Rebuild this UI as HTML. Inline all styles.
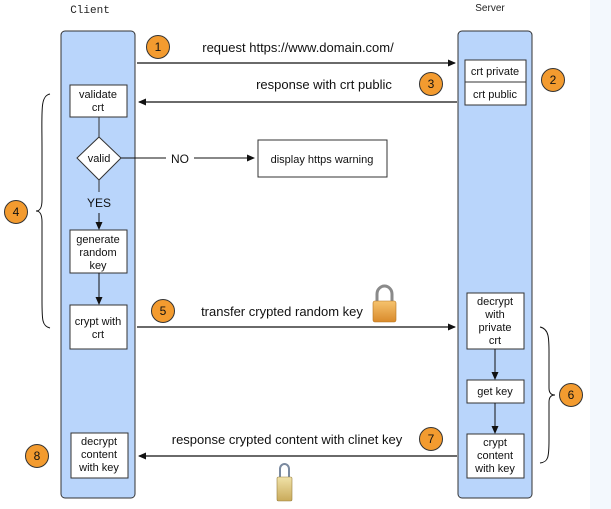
<!DOCTYPE html>
<html><head><meta charset="utf-8"><style>
body{margin:0;background:#fff;}
svg{display:block;font-family:"Liberation Sans",Arial,sans-serif;}
</style></head><body>
<svg width="611" height="509" viewBox="0 0 611 509" xmlns="http://www.w3.org/2000/svg">
<defs>
<marker id="ah" markerWidth="8" markerHeight="8" refX="7" refY="4" orient="auto" markerUnits="userSpaceOnUse"><path d="M0,0.5 L8,4 L0,7.5 Z" fill="#111"/></marker>
<linearGradient id="lk" x1="0" y1="0" x2="0" y2="1"><stop offset="0" stop-color="#f6c36e"/><stop offset="1" stop-color="#d98a2b"/></linearGradient>
<linearGradient id="lk2" x1="0" y1="0" x2="0" y2="1"><stop offset="0" stop-color="#f0e2a8"/><stop offset="1" stop-color="#c9aa5a"/></linearGradient>
</defs>
<rect x="590" y="0" width="21" height="509" fill="#f3f8fd"/>
<text x="90" y="13" font-family="Liberation Mono,monospace" font-size="11" text-anchor="middle" fill="#222">Client</text>
<text x="490" y="11" font-size="10" text-anchor="middle" fill="#222">Server</text>
<rect x="61" y="31" width="74" height="467" rx="4" fill="#b9d5fb" stroke="#333" stroke-width="1"/>
<rect x="458" y="31" width="74" height="467" rx="4" fill="#b9d5fb" stroke="#333" stroke-width="1"/>
<g font-size="11" fill="#111" text-anchor="middle">
<rect x="465" y="60" width="61" height="45" fill="#fff" stroke="#333"/>
<line x1="465" y1="82" x2="526" y2="82" stroke="#333"/>
<text x="495" y="75">crt private</text><text x="495" y="98">crt public</text>
<rect x="70" y="85" width="57" height="32" fill="#fff" stroke="#333"/>
<text x="98" y="98">validate</text><text x="98" y="111">crt</text>
<line x1="99" y1="117" x2="99" y2="137" stroke="#333"/>
<polygon points="99,137 121,158 99,180 77,158" fill="#fff" stroke="#333"/>
<text x="99" y="162">valid</text>
<line x1="121" y1="158" x2="166" y2="158" stroke="#111"/>
<text x="180" y="163" font-size="12">NO</text>
<line x1="194" y1="158" x2="254" y2="158" stroke="#111" marker-end="url(#ah)"/>
<rect x="258" y="140" width="129" height="37" fill="#fff" stroke="#333"/>
<text x="322" y="163">display https warning</text>
<line x1="99" y1="180" x2="99" y2="192" stroke="#333"/>
<text x="99" y="207" font-size="12">YES</text>
<line x1="99" y1="213" x2="99" y2="229" stroke="#111" marker-end="url(#ah)"/>
<rect x="70" y="230" width="57" height="43" fill="#fff" stroke="#333"/>
<text x="98" y="243">generate</text><text x="98" y="256">random</text><text x="98" y="269">key</text>
<line x1="99" y1="273" x2="99" y2="304" stroke="#111" marker-end="url(#ah)"/>
<rect x="70" y="305" width="57" height="44" fill="#fff" stroke="#333"/>
<text x="98" y="325">crypt with</text><text x="98" y="338">crt</text>
<rect x="467" y="293" width="57" height="56" fill="#fff" stroke="#333"/>
<text x="495" y="305">decrypt</text><text x="495" y="318">with</text><text x="495" y="331">private</text><text x="495" y="344">crt</text>
<line x1="495" y1="349" x2="495" y2="379" stroke="#111" marker-end="url(#ah)"/>
<rect x="467" y="380" width="57" height="23" fill="#fff" stroke="#333"/>
<text x="495" y="395">get key</text>
<line x1="495" y1="403" x2="495" y2="433" stroke="#111" marker-end="url(#ah)"/>
<rect x="467" y="434" width="57" height="44" fill="#fff" stroke="#333"/>
<text x="495" y="446">crypt</text><text x="495" y="459">content</text><text x="495" y="472">with key</text>
<rect x="71" y="433" width="57" height="45" fill="#fff" stroke="#333"/>
<text x="99" y="445">decrypt</text><text x="99" y="458">content</text><text x="99" y="471">with key</text>
</g>
<g stroke="#111" stroke-width="1.2">
<line x1="137" y1="63" x2="455" y2="63" marker-end="url(#ah)"/>
<line x1="457" y1="102" x2="139" y2="102" marker-end="url(#ah)"/>
<line x1="137" y1="327" x2="455" y2="327" marker-end="url(#ah)"/>
<line x1="457" y1="456" x2="139" y2="456" marker-end="url(#ah)"/>
</g>
<g font-size="13" fill="#111" text-anchor="middle">
<text x="298" y="52">request https://www.domain.com/</text>
<text x="324" y="89">response with crt public</text>
<text x="282" y="316">transfer crypted random key</text>
<text x="287" y="444">response crypted content with clinet key</text>
</g>
<path d="M50,94 C40,96 42,110 42,150 L42,200 C42,208 40,211 36,211 C40,211 42,214 42,222 L42,300 C42,320 42,326 50,328" fill="none" stroke="#111"/>
<path d="M540,327 C550,329 549,340 549,360 L549,388 C549,393 551,395 555,395 C551,395 549,397 549,402 L549,440 C549,458 548,462 540,463" fill="none" stroke="#111"/>
<g font-size="12" text-anchor="middle" fill="#111" stroke-width="1">
<circle cx="158" cy="47" r="11.5" fill="#f39b2f" stroke="#333"/><text x="158" y="51">1</text>
<circle cx="553" cy="80" r="11.5" fill="#f39b2f" stroke="#333"/><text x="553" y="84">2</text>
<circle cx="431" cy="84" r="11.5" fill="#f39b2f" stroke="#333"/><text x="431" y="88">3</text>
<circle cx="16" cy="212" r="11.5" fill="#f39b2f" stroke="#333"/><text x="16" y="216">4</text>
<circle cx="163" cy="311" r="11.5" fill="#f39b2f" stroke="#333"/><text x="163" y="315">5</text>
<circle cx="571" cy="395" r="11.5" fill="#f39b2f" stroke="#333"/><text x="571" y="399">6</text>
<circle cx="431" cy="439" r="11.5" fill="#f39b2f" stroke="#333"/><text x="431" y="443">7</text>
<circle cx="37" cy="456" r="11.5" fill="#f39b2f" stroke="#333"/><text x="37" y="460">8</text>
</g>
<path d="M377,302 L377,294 A7.5,8 0 0 1 392,294 L392,302" fill="none" stroke="#8a8a8a" stroke-width="3"/>
<rect x="373" y="301" width="23" height="21" rx="2" fill="url(#lk)" stroke="#b57420" stroke-width="0.6"/>
<path d="M280,478 L280,469 A4.5,5 0 0 1 289,469 L289,478" fill="none" stroke="#7b8aa0" stroke-width="2"/>
<rect x="277" y="477" width="15" height="24" rx="1.5" fill="url(#lk2)" stroke="#9a8040" stroke-width="0.6"/>
</svg>
</body></html>
